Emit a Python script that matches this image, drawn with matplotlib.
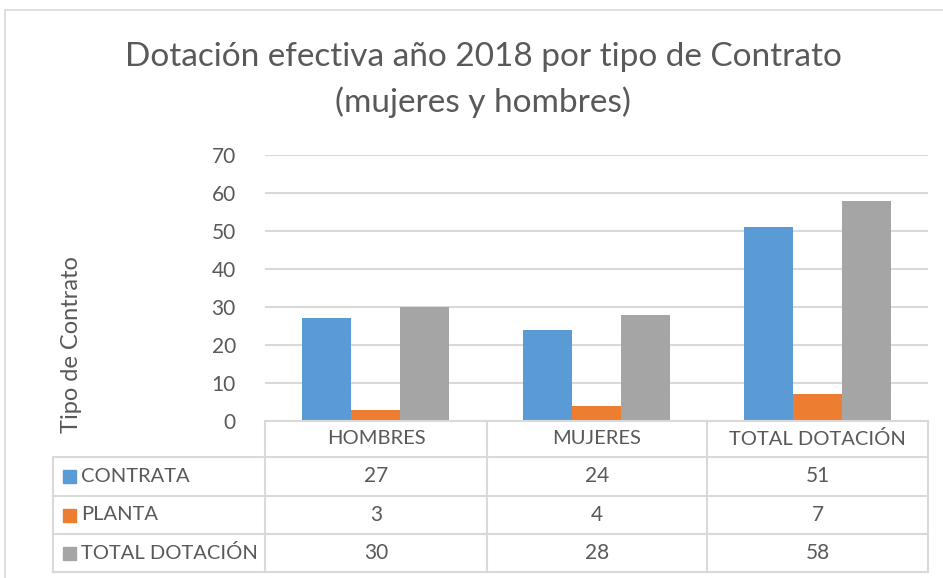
import matplotlib.pyplot as plt
import numpy as np
from matplotlib.patches import Rectangle

categorias = ["HOMBRES", "MUJERES", "TOTAL DOTACIÓN"]
series = ["CONTRATA", "PLANTA", "TOTAL DOTACIÓN"]
contrata = [27, 24, 51]
planta = [3, 4, 7]
total = [30, 28, 58]
valores = [contrata, planta, total]
colores = ["#5B9BD5", "#ED7D31", "#A5A5A5"]
gris_texto = "#595959"
gris_linea = "#D9D9D9"

plt.rcParams['font.family'] = ['Lato', 'DejaVu Sans']

W, H = 943, 578
fig = plt.figure(figsize=(W / 100, H / 100), dpi=100)


def fx(px):
    return px / W


def fy(py):
    return 1 - py / H


# marco exterior
fig.patches.append(Rectangle((fx(5), fy(590)), fx(945) - fx(5), fy(10) - fy(590),
                             transform=fig.transFigure, fill=False,
                             edgecolor=gris_linea, linewidth=1.2))

# titulo
fig.text(fx(483), fy(57), "Dotación efectiva año 2018 por tipo de Contrato",
         ha="center", va="center", fontsize=24, color=gris_texto)
fig.text(fx(483), fy(102), "(mujeres y hombres)",
         ha="center", va="center", fontsize=24, color=gris_texto)

# grafico de barras
x0, x1 = 265, 928
ytop, ybot = 155, 421
ax = fig.add_axes([fx(x0), fy(ybot), fx(x1) - fx(x0), fy(ytop) - fy(ybot)])
x = np.arange(len(categorias))
ancho = 0.222
for i, (vals, col) in enumerate(zip(valores, colores)):
    ax.bar(x + (i - 1) * ancho, vals, ancho, color=col, zorder=3)
ax.set_xlim(-0.5, len(categorias) - 0.5)
ax.set_ylim(0, 70)
ax.set_yticks(range(0, 71, 10))
ax.yaxis.grid(True, color=gris_linea, linewidth=1.5, zorder=0)
ax.set_xticks([])
for s in ["top", "right", "left", "bottom"]:
    ax.spines[s].set_visible(False)
ax.tick_params(axis="y", length=0, labelsize=15, labelcolor=gris_texto, pad=21)

fig.text(fx(72), fy(345), "Tipo de Contrato", rotation=90, ha="center", va="center",
         fontsize=17, color=gris_texto)

# tabla de datos
col_x = [53, 265, 487, 707, 928]
row_y = [421, 457, 496, 534, 572]
lw = 1.5
tab = fig.add_axes([0, 0, 1, 1], facecolor="none")
tab.set_xlim(0, W)
tab.set_ylim(H, 0)
tab.axis("off")
# lineas horizontales
tab.plot([col_x[1], col_x[-1]], [row_y[0], row_y[0]], color=gris_linea, lw=lw)
for yy in row_y[1:]:
    tab.plot([col_x[0], col_x[-1]], [yy, yy], color=gris_linea, lw=lw)
# lineas verticales
tab.plot([col_x[0], col_x[0]], [row_y[1], row_y[-1]], color=gris_linea, lw=lw)
for xx in col_x[1:]:
    tab.plot([xx, xx], [row_y[0], row_y[-1]], color=gris_linea, lw=lw)

for j, cat in enumerate(categorias):
    cx = (col_x[j + 1] + col_x[j + 2]) / 2
    tab.text(cx, (row_y[0] + row_y[1]) / 2, cat, ha="center", va="center",
             fontsize=14.5, color=gris_texto)

for i, (nombre, vals, col) in enumerate(zip(series, valores, colores)):
    cy = (row_y[i + 1] + row_y[i + 2]) / 2
    tab.add_patch(Rectangle((63, cy - 6.5), 13, 13, color=col))
    tab.text(81, cy, nombre, ha="left", va="center", fontsize=14.5, color=gris_texto)
    for j, v in enumerate(vals):
        cx = (col_x[j + 1] + col_x[j + 2]) / 2
        tab.text(cx, cy, str(v), ha="center", va="center", fontsize=15, color=gris_texto)

fig.savefig("out.png", dpi=100)
